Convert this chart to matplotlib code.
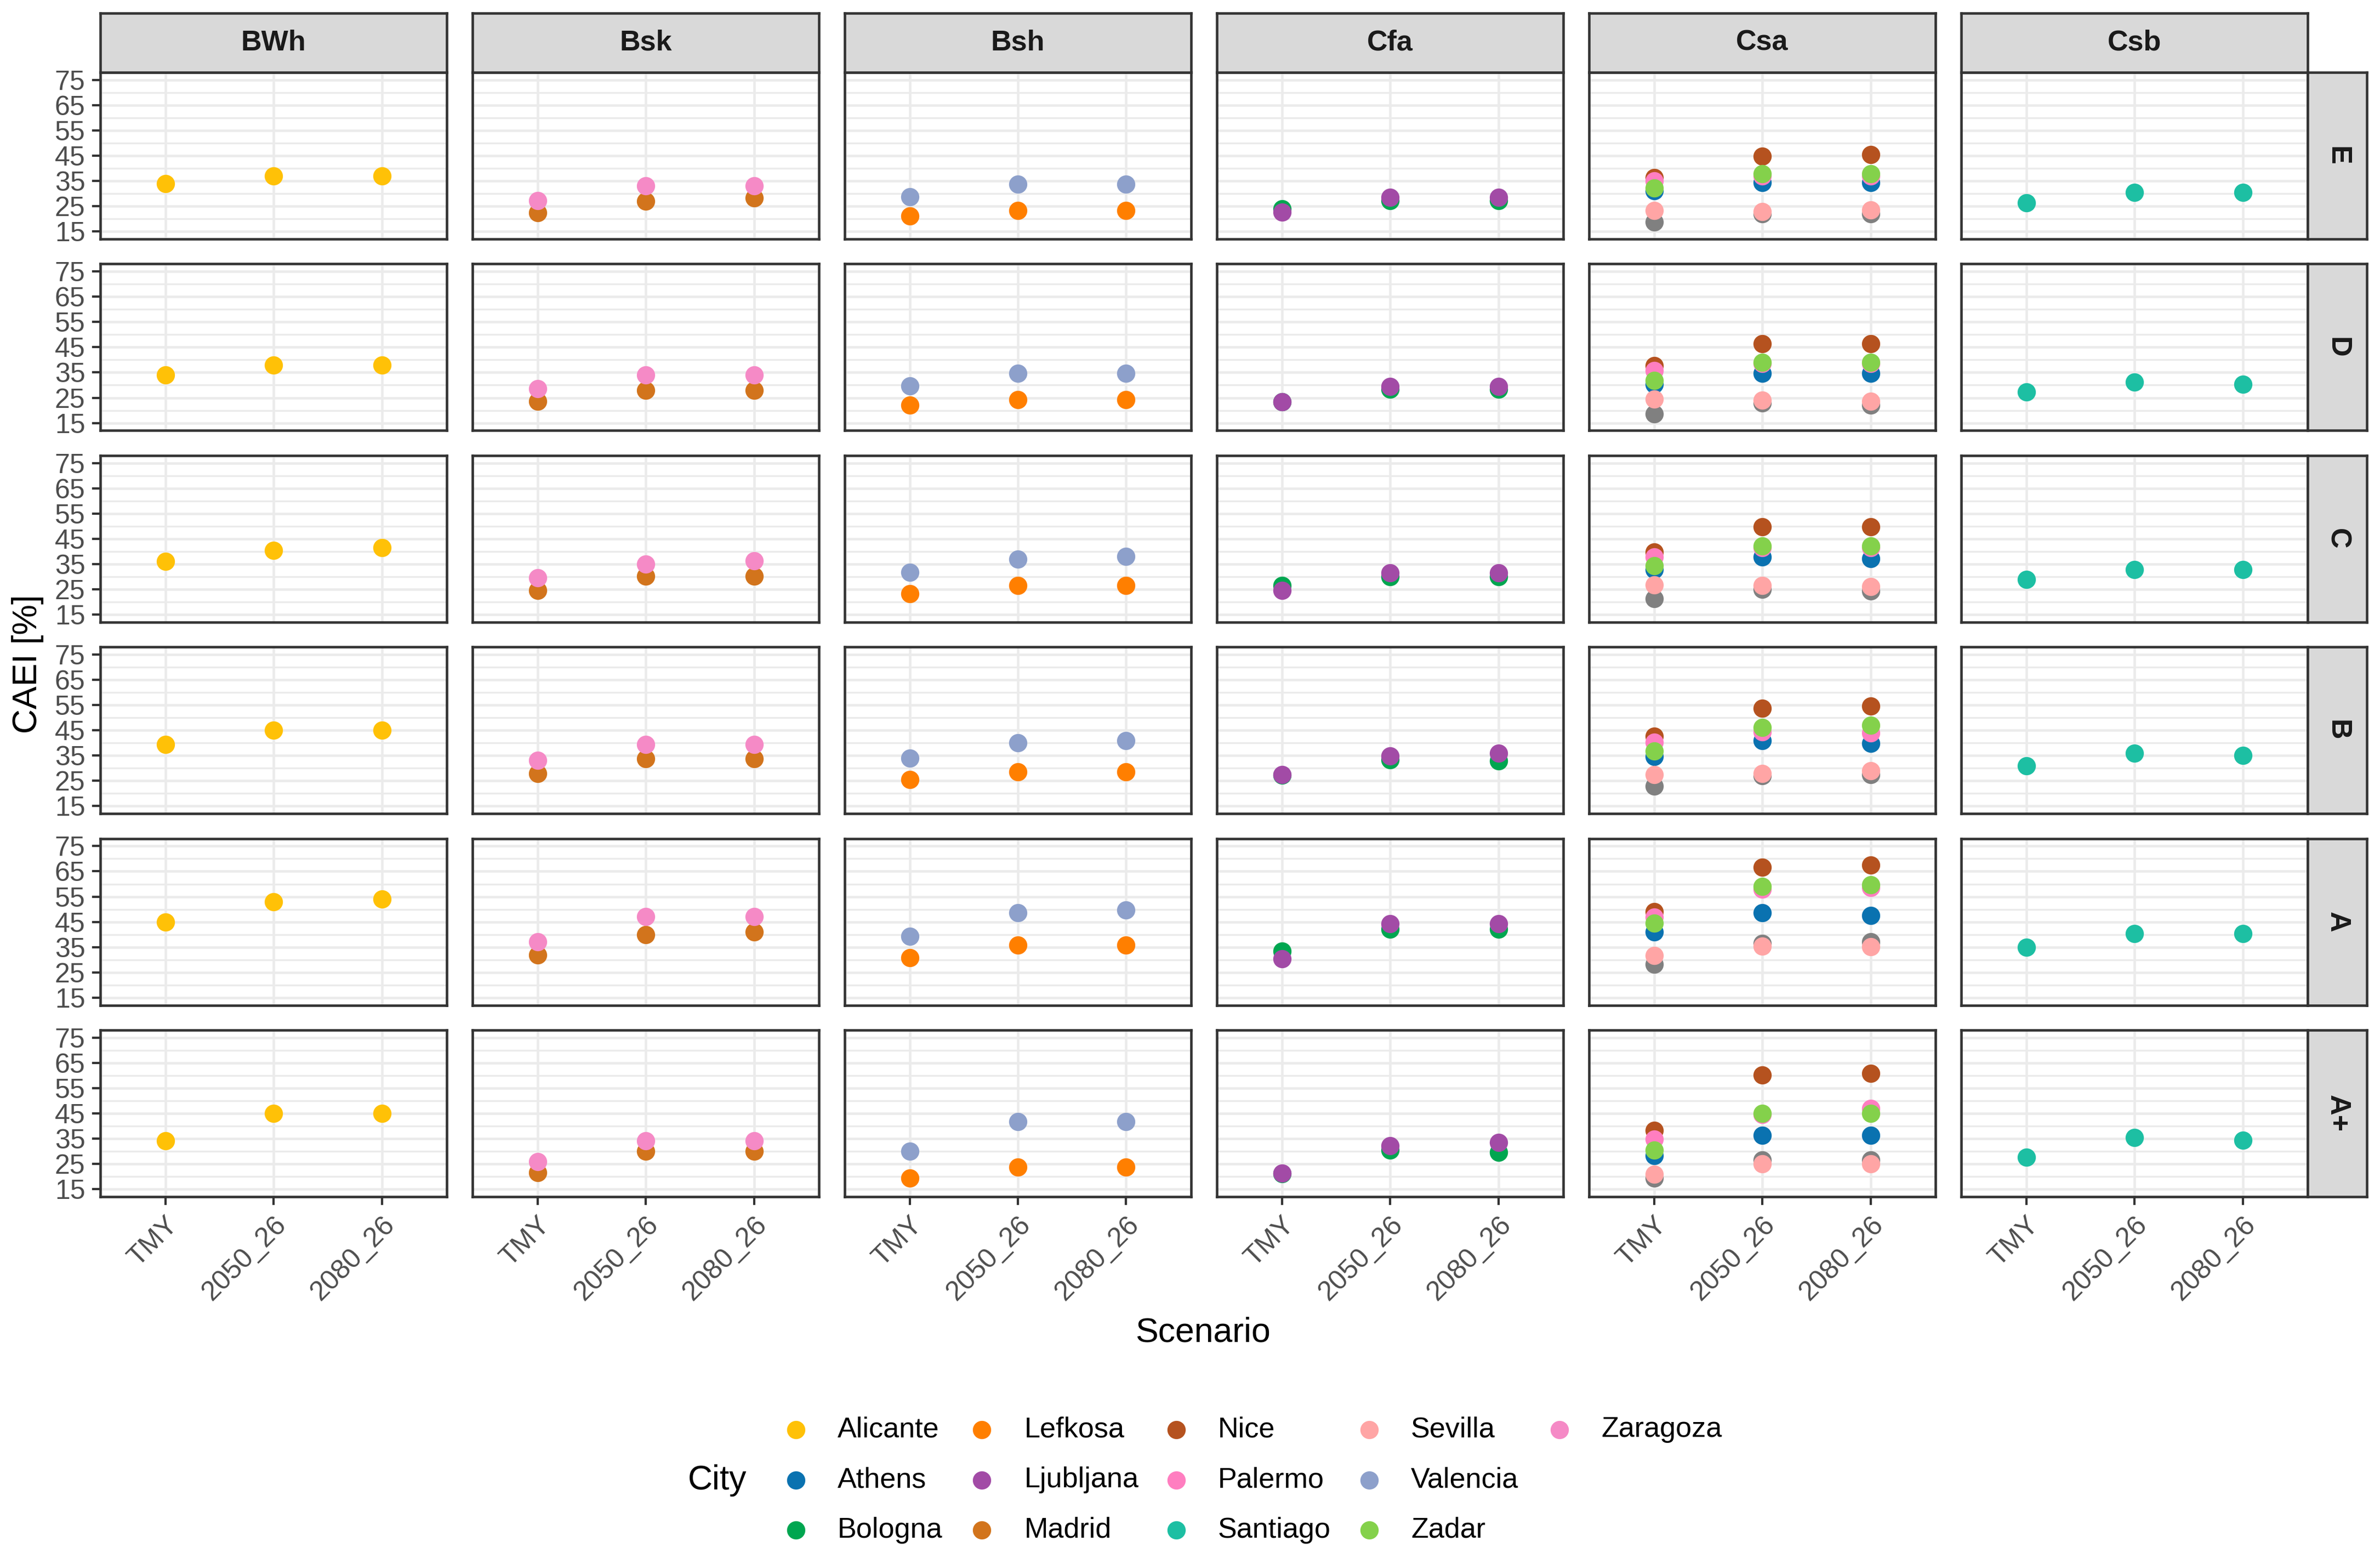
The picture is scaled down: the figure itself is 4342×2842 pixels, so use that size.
#!/usr/bin/env python3
"""CAEI [%] per city, climate zone (columns) and energy class (rows) for three weather scenarios."""
import matplotlib

matplotlib.use("Agg")
import matplotlib.pyplot as plt
from matplotlib.lines import Line2D

plt.rcParams["font.family"] = ["Liberation Sans", "DejaVu Sans"]

SCENARIOS = ["TMY", "2050_26", "2080_26"]
CLIMATES = ["BWh", "Bsk", "Bsh", "Cfa", "Csa", "Csb"]
CLASSES = ["E", "D", "C", "B", "A", "A+"]
Y_TICKS = [15, 25, 35, 45, 55, 65, 75]

# one row per energy class (E, D, C, B, A, A+), columns = TMY, 2050_26, 2080_26
alicante = [[33.9, 37.0, 37.0], [34.0, 38.0, 38.0], [36.0, 40.5, 41.5],
            [39.5, 45.0, 45.0], [45.0, 53.0, 54.0], [34.1, 45.0, 45.0]]
madrid = [[22.5, 27.0, 28.2], [23.6, 28.0, 28.0], [24.6, 30.2, 30.2],
          [27.8, 33.7, 33.7], [31.8, 40.0, 41.0], [21.5, 30.0, 30.0]]
zaragoza = [[27.1, 33.0, 33.0], [28.5, 34.0, 34.0], [29.5, 35.0, 36.2],
            [33.0, 39.3, 39.3], [37.0, 47.0, 47.0], [26.0, 34.2, 34.2]]
lefkosa = [[21.1, 23.3, 23.3], [22.1, 24.3, 24.3], [23.3, 26.4, 26.4],
           [25.4, 28.5, 28.5], [30.7, 35.9, 35.9], [19.3, 23.7, 23.7]]
valencia = [[28.7, 33.7, 33.7], [29.7, 34.7, 34.7], [31.7, 36.9, 38.0],
            [33.9, 40.0, 41.0], [39.3, 48.6, 49.7], [30.1, 41.7, 41.7]]
bologna = [[24.0, 27.3, 27.3], [23.3, 28.3, 28.3], [26.4, 30.0, 30.0],
           [27.3, 33.4, 32.9], [33.3, 42.1, 42.1], [21.2, 30.5, 29.5]]
ljubljana = [[22.6, 28.6, 28.6], [23.3, 29.4, 29.4], [24.6, 31.4, 31.4],
             [27.5, 34.9, 36.0], [30.4, 44.3, 44.3], [21.4, 32.2, 33.4]]
athens = [[31.0, 34.4, 34.4], [30.4, 34.7, 34.7], [32.9, 37.9, 37.1],
          [34.6, 40.9, 39.8], [41.1, 48.6, 47.6], [28.3, 36.3, 36.3]]
nice = [[36.4, 44.7, 45.4], [37.6, 46.4, 46.4], [39.7, 49.7, 49.7],
        [42.7, 53.7, 54.7], [49.0, 66.6, 67.6], [38.2, 60.2, 60.9]]
palermo = [[35.0, 37.0, 37.0], [35.7, 38.5, 38.5], [37.9, 41.5, 41.5],
           [40.3, 44.5, 44.0], [46.9, 58.0, 58.5], [34.9, 44.5, 47.0]]
sevilla = [[23.3, 22.9, 23.6], [24.4, 24.0, 23.6], [26.7, 26.4, 26.0],
           [27.5, 28.0, 28.9], [31.6, 35.4, 35.1], [20.8, 25.1, 25.1]]
zadar = [[32.1, 37.9, 37.9], [31.9, 39.0, 39.0], [34.3, 42.1, 42.1],
         [36.7, 46.2, 47.0], [44.4, 59.0, 59.7], [30.5, 45.0, 45.0]]
# grey Csa city with no legend entry
unlisted = [[18.7, 21.9, 21.9], [18.7, 23.0, 22.1], [21.4, 25.0, 24.3],
            [23.0, 27.0, 27.5], [28.3, 36.4, 37.0], [19.3, 26.6, 26.6]]
santiago = [[26.4, 30.4, 30.4], [27.3, 31.3, 30.3], [28.8, 32.8, 32.8],
            [31.0, 36.0, 35.0], [35.0, 40.3, 40.3], [27.7, 35.4, 34.4]]

# drawing order = legend order (later cities sit on top)
CITIES = [
    ("Alicante", "BWh", alicante, "#FFC107"),
    ("Athens", "Csa", athens, "#0A72B0"),
    ("Bologna", "Cfa", bologna, "#00A650"),
    ("Lefkosa", "Bsh", lefkosa, "#FF7F00"),
    ("Ljubljana", "Cfa", ljubljana, "#A24BA6"),
    ("Madrid", "Bsk", madrid, "#D2741C"),
    ("Nice", "Csa", nice, "#B5521F"),
    (None, "Csa", unlisted, "#808080"),
    ("Palermo", "Csa", palermo, "#FF7EC0"),
    ("Santiago", "Csb", santiago, "#1DBFA3"),
    ("Sevilla", "Csa", sevilla, "#FFA5A5"),
    ("Valencia", "Bsh", valencia, "#8DA0CB"),
    ("Zadar", "Csa", zadar, "#84D14B"),
    ("Zaragoza", "Bsk", zaragoza, "#F58AC6"),
]

W, H, DPI = 4342, 2842, 300
PANEL_LEFT0, PANEL_PITCH_X, PANEL_W = 183, 679, 632
PANEL_TOP0, PANEL_PITCH_Y, PANEL_H = 132, 349.4, 304
STRIP = 108
EDGE = "#333333"
GRID = "#EBEBEB"
TICK_TXT = "#4D4D4D"

fig = plt.figure(figsize=(W / DPI, H / DPI), dpi=DPI)


def px_axes(left, top, w, h):
    return fig.add_axes([left / W, 1 - (top + h) / H, w / W, h / H])


def style_frame(ax):
    for s in ax.spines.values():
        s.set_color(EDGE)
        s.set_linewidth(1.1)


axes = {}
for r, cls in enumerate(CLASSES):
    top = PANEL_TOP0 + r * PANEL_PITCH_Y
    for c, clim in enumerate(CLIMATES):
        left = PANEL_LEFT0 + c * PANEL_PITCH_X
        ax = px_axes(left, top, PANEL_W, PANEL_H)
        ax.set_xlim(-0.6, 2.6)
        ax.set_ylim(12, 78)
        ax.set_xticks(range(len(SCENARIOS)))
        ax.set_yticks(Y_TICKS)
        ax.set_yticks([20, 30, 40, 50, 60, 70], minor=True)
        ax.grid(which="major", color=GRID, linewidth=1.1)
        ax.grid(which="minor", axis="y", color=GRID, linewidth=0.8)
        ax.set_axisbelow(True)
        style_frame(ax)
        ax.tick_params(which="minor", length=0)
        ax.tick_params(which="major", length=3.6, width=1.0, color=EDGE,
                       labelsize=12, labelcolor=TICK_TXT, pad=3)
        if c == 0:
            ax.set_yticklabels([str(t) for t in Y_TICKS])
        else:
            ax.tick_params(axis="y", length=0, labelleft=False)
        if r == len(CLASSES) - 1:
            ax.set_xticklabels(SCENARIOS, rotation=45, ha="right",
                               rotation_mode="anchor")
        else:
            ax.tick_params(axis="x", length=0, labelbottom=False)
        axes[(cls, clim)] = ax

        if r == 0:
            sx = px_axes(left, PANEL_TOP0 - STRIP, PANEL_W, STRIP)
            sx.set_facecolor("#D9D9D9")
            sx.set_xticks([])
            sx.set_yticks([])
            style_frame(sx)
            sx.text(0.5, 0.5, clim, ha="center", va="center", fontsize=12.5,
                    fontweight="bold", color="#1A1A1A", transform=sx.transAxes)
    sy = px_axes(PANEL_LEFT0 + 5 * PANEL_PITCH_X + PANEL_W, top, STRIP, PANEL_H)
    sy.set_facecolor("#D9D9D9")
    sy.set_xticks([])
    sy.set_yticks([])
    style_frame(sy)
    sy.text(0.5, 0.5, cls, ha="center", va="center", rotation=-90, fontsize=12.5,
            fontweight="bold", color="#1A1A1A", transform=sy.transAxes)

for name, clim, values, colour in CITIES:
    for r, cls in enumerate(CLASSES):
        axes[(cls, clim)].plot(range(len(SCENARIOS)), values[r], "o", color=colour,
                               markersize=8, markeredgewidth=0, zorder=3)

fig.text(50 / W, 1 - 1211 / H, "CAEI [%]", rotation=90, ha="center", va="center",
         fontsize=15)
fig.text(2195 / W, 1 - 2431 / H, "Scenario", ha="center", va="center", fontsize=15)

# legend: 5 columns x 3 rows, filled column by column
LEG_MARK_X = [1452, 1791, 2146, 2498, 2845]
LEG_TEXT_X = [1528, 1869, 2222, 2574, 2921]
LEG_ROW_Y = [2608, 2700, 2791]
fig.text(1255 / W, 1 - 2700 / H, "City", ha="left", va="center", fontsize=15)
legend_items = [(n, col) for n, _, _, col in CITIES if n is not None]
for i, (name, colour) in enumerate(legend_items):
    col, row = divmod(i, 3)
    y = 1 - LEG_ROW_Y[row] / H
    fig.add_artist(Line2D([LEG_MARK_X[col] / W], [y], marker="o", linestyle="none",
                          color=colour, markersize=8, markeredgewidth=0,
                          transform=fig.transFigure))
    fig.text(LEG_TEXT_X[col] / W, y, name, ha="left", va="center", fontsize=12.5)

fig.savefig("out.png", dpi=DPI, facecolor="white")
